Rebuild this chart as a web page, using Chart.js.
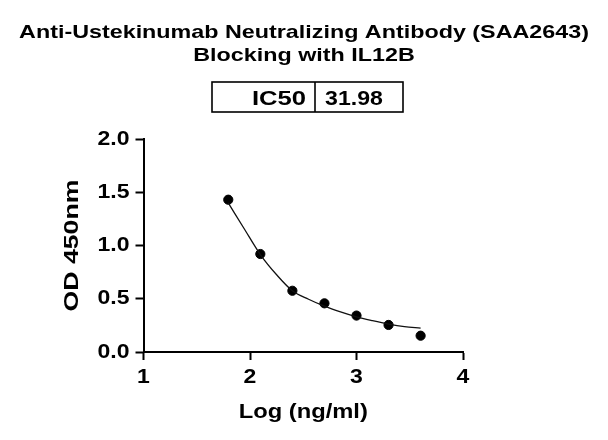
<!DOCTYPE html>
<html>
<head>
<meta charset="utf-8">
<script src="https://cdn.jsdelivr.net/npm/chart.js@4.4.0/dist/chart.umd.min.js"></script>
<style>
  html, body { margin: 0; padding: 0; background: #fff; }
  #wrap { width: 608px; height: 440px; }
</style>
</head>
<body>
<div id="wrap"><canvas id="chart" width="608" height="440"></canvas></div>
<script>
// chart data
const titleLines = ['Anti-Ustekinumab Neutralizing Antibody (SAA2643)', 'Blocking with IL12B'];
const tableLabels = ['IC50'];
const tableValues = ['31.98'];

const logConc = [1.796, 2.097, 2.398, 2.699, 3.0, 3.301, 3.602];
const odValues = [1.43, 0.92, 0.575, 0.457, 0.342, 0.254, 0.153];

// fitted curve
const fitX = [1.796, 1.95, 2.097, 2.25, 2.398, 2.55, 2.699, 2.85, 3.0, 3.15, 3.301, 3.45, 3.602];
const fitY = [1.40, 1.15, 0.915, 0.725, 0.575, 0.495, 0.43, 0.376, 0.33, 0.294, 0.262, 0.238, 0.224];

const xTicks = ['1', '2', '3', '4'];
const yTicks = ['0.0', '0.5', '1.0', '1.5', '2.0'];

const FONT = '"Liberation Sans", Arial, Helvetica, sans-serif';

// the original font is wider than Arial, so text gets stretched sideways
const stretchFor = {
    'Log (ng/ml)': 1.13,
    'OD 450nm': 1.27,
    'IC50': 1.22,
    '31.98': 1.1
};
stretchFor[titleLines[0]] = 1.26;
stretchFor[titleLines[1]] = 1.26;
const tickStretch = 1.15;

const stretchPlugin = {
    id: 'stretch',
    beforeDraw(chart) {
        const c = chart.ctx;
        if (c._origFill) return;
        c._origFill = c.fillText;
        c.fillText = function (text, x, y) {
            const sx = stretchFor[text] || tickStretch;
            this.save();
            this.translate(x, y);
            this.scale(sx, 1);
            this._origFill(text, 0, 0);
            this.restore();
        };
    }
};

const headerPlugin = {
    id: 'header',
    afterDraw(chart) {
        const ctx = chart.ctx;
        ctx.save();
        ctx.fillStyle = '#000';
        ctx.textAlign = 'center';
        ctx.textBaseline = 'alphabetic';
        ctx.font = 'bold 18.5px ' + FONT;
        titleLines.forEach((line, i) => {
            ctx.fillText(line, 304, 37.5 + i * 23.5);
        });

        // IC50 box
        ctx.strokeStyle = '#000';
        ctx.lineWidth = 1.6;
        ctx.strokeRect(212, 82, 191, 30);
        ctx.beginPath();
        ctx.moveTo(315, 82);
        ctx.lineTo(315, 112);
        ctx.stroke();
        ctx.font = 'bold 21px ' + FONT;
        ctx.textAlign = 'right';
        ctx.fillText(tableLabels[0], 306, 104.5);
        ctx.textAlign = 'center';
        ctx.fillText(tableValues[0], 354, 104.5);
        ctx.restore();
    }
};

const ctx = document.getElementById('chart').getContext('2d');
const chart = new Chart(ctx, {
    type: 'scatter',
    data: {
        datasets: [
            {
                label: 'fit',
                data: fitX.map((x, i) => ({ x: x, y: fitY[i] })),
                showLine: true,
                borderColor: '#111',
                borderWidth: 1.3,
                pointRadius: 0,
                cubicInterpolationMode: 'monotone',
                fill: false
            },
            {
                label: 'OD',
                data: logConc.map((x, i) => ({ x: x, y: odValues[i] })),
                backgroundColor: '#000',
                borderColor: '#000',
                pointRadius: 4.6,
                pointHoverRadius: 4.6
            }
        ]
    },
    options: {
        responsive: false,
        animation: false,
        events: [],
        layout: { padding: { top: 139, right: 145, bottom: 0, left: 0 } },
        plugins: {
            legend: { display: false },
            tooltip: { enabled: false }
        },
        scales: {
            x: {
                type: 'linear',
                min: 1,
                max: 4,
                afterBuildTicks: (scale) => {
                    scale.ticks = xTicks.map(t => ({ value: Number(t) }));
                },
                afterFit: (scale) => { scale.height = 88; },
                ticks: {
                    color: '#000',
                    font: { family: FONT, size: 20, weight: 'bold' },
                    padding: 5,
                    maxRotation: 0,
                    callback: (v, i) => xTicks[i]
                },
                grid: {
                    drawOnChartArea: false,
                    color: '#000',
                    tickLength: 8,
                    tickWidth: 2
                },
                border: { display: true, color: '#000', width: 2 },
                title: {
                    display: true,
                    text: 'Log (ng/ml)',
                    color: '#000',
                    font: { family: FONT, size: 21, weight: 'bold' },
                    padding: { top: 0, bottom: 15 }
                }
            },
            y: {
                type: 'linear',
                min: 0,
                max: 2,
                afterBuildTicks: (scale) => {
                    scale.ticks = yTicks.map(t => ({ value: Number(t) }));
                },
                afterFit: (scale) => { scale.width = 143.5; },
                ticks: {
                    color: '#000',
                    font: { family: FONT, size: 20, weight: 'bold' },
                    padding: 6,
                    callback: (v, i) => yTicks[i]
                },
                grid: {
                    drawOnChartArea: false,
                    color: '#000',
                    tickLength: 8,
                    tickWidth: 2
                },
                border: { display: true, color: '#000', width: 2 },
                title: {
                    display: true,
                    text: 'OD 450nm',
                    color: '#000',
                    font: { family: FONT, size: 21, weight: 'bold' },
                    padding: { top: 60, bottom: 0 }
                }
            }
        }
    },
    plugins: [stretchPlugin, headerPlugin]
});
</script>
</body>
</html>
